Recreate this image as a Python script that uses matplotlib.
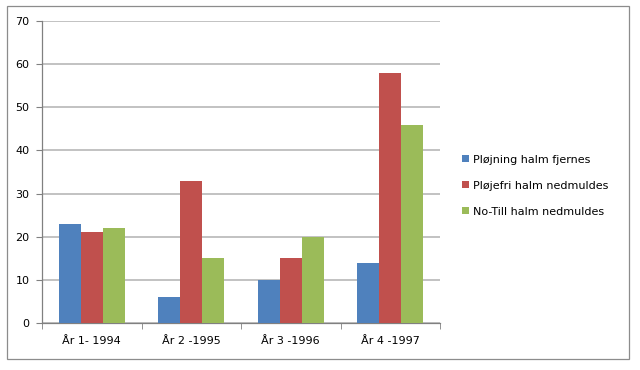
import matplotlib.pyplot as plt
import numpy as np
from matplotlib.patches import Rectangle

categories = ['År 1- 1994', 'År 2 -1995', 'År 3 -1996', 'År 4 -1997']
series_names = ['Pløjning halm fjernes', 'Pløjefri halm nedmuldes', 'No-Till halm nedmuldes']
ploejning = [23, 6, 10, 14]
ploejefri = [21, 33, 15, 58]
notill = [22, 15, 20, 46]

colours = ['#4F81BD', '#C0504D', '#9BBB59']
grid_col = '#b8b8b8'
axis_col = '#808080'

plt.rcParams['font.family'] = ['DejaVu Sans']

fig = plt.figure(figsize=(6.4, 3.7), dpi=100)
ax = fig.add_axes([0.0656, 0.127, 0.622, 0.816])

# outer chart frame
fig.patches.append(Rectangle((7 / 640, 1 - 359 / 370), 622 / 640, 353 / 370,
                             transform=fig.transFigure, fill=False,
                             edgecolor='#8c8c8c', linewidth=0.9))

x = np.arange(len(categories))
w = 0.22
for i, vals in enumerate([ploejning, ploejefri, notill]):
    ax.bar(x + (i - 1) * w, vals, width=w, color=colours[i],
           label=series_names[i], zorder=3)

ax.set_xlim(-0.5, len(categories) - 0.5)
ax.set_ylim(0, 70)
ax.set_yticks(range(0, 71, 10))
ax.yaxis.grid(True, color=grid_col, linewidth=1.2, zorder=0)

ax.set_xticks(x)
ax.set_xticklabels(categories, fontsize=8)
ax.set_xticks(np.arange(-0.5, len(categories), 1.0), minor=True)
ax.tick_params(axis='x', which='major', length=0, pad=9)
ax.tick_params(axis='x', which='minor', length=4, color=axis_col, direction='out')
ax.tick_params(axis='y', length=4, color=axis_col, labelsize=8, pad=5)

for side in ['top', 'right']:
    ax.spines[side].set_visible(False)
for side in ['left', 'bottom']:
    ax.spines[side].set_color(axis_col)
    ax.spines[side].set_linewidth(0.9)

leg = ax.legend(loc='center left', bbox_to_anchor=(1.03, 0.455), frameon=False,
                fontsize=8, handlelength=0.6, handleheight=0.6,
                handletextpad=0.4, labelspacing=1.45)

fig.savefig('out.png', dpi=100)
